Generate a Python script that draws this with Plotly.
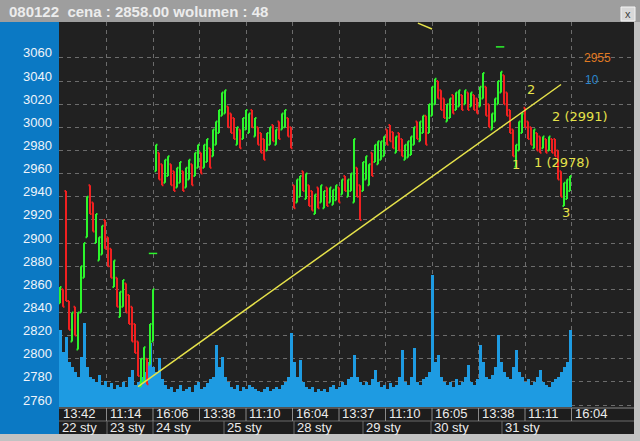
import plotly.graph_objects as go

# ---------------- data ----------------
bar_low = [2848, 2845, 2850, 2825, 2815, 2820, 2808, 2840, 2870, 2905,
           2925, 2910, 2900, 2885, 2890, 2895, 2880, 2870, 2862, 2845,
           2836, 2845, 2840, 2830, 2815, 2805, 2785, 2776, 2780, 2778,
           2795, 2815,
           2962, 2955, 2950, 2952, 2958, 2950, 2945, 2948, 2952, 2945,
           2948, 2955, 2950, 2958, 2965, 2960, 2965, 2970, 2965, 2975,
           2985, 2995, 3010, 3012, 3000, 2995, 2990, 2985, 2982, 2990,
           2998, 2995, 3000, 2992, 2985, 2978, 2972, 2980, 2985, 2988,
           2985, 2990, 2998, 3000, 2992, 2982,
           2930, 2935, 2940, 2945, 2938, 2932, 2928, 2925, 2930, 2935,
           2930, 2932, 2935, 2933, 2937, 2935, 2942, 2945, 2940, 2945,
           2935, 2940, 2920, 2945,
           2955, 2950, 2958, 2970, 2968, 2972, 2975, 2985, 2988, 2982,
           2978, 2980, 2975, 2972, 2974, 2976, 2985, 2990, 2988, 2995,
           2985, 2995,
           3010, 3020, 3025, 3015, 3008, 3005, 3008, 3012, 3015, 3018,
           3015, 3020, 3015, 3018, 3015, 3012, 3018, 3025, 3010, 3000,
           2998, 3005, 3020, 3030,
           3020, 3010, 2995, 2975, 2966, 2980, 2995, 3000, 2990, 2985,
           2982, 2980, 2978, 2982, 2978, 2980, 2978, 2975, 2955, 2940,
           2932, 2938, 2945]
bar_high = [2862, 2860, 2945, 2850, 2840, 2845, 2840, 2880, 2900, 2940,
            2950, 2935, 2925, 2905, 2915, 2920, 2905, 2895, 2885, 2870,
            2858, 2868, 2865, 2855, 2845, 2830, 2815, 2800, 2810, 2800,
            2830, 2860,
            2985, 2978, 2968, 2972, 2975, 2968, 2962, 2965, 2970, 2962,
            2965, 2972, 2968, 2978, 2985, 2978, 2985, 2990, 2982, 2998,
            3005, 3015, 3030, 3032, 3018, 3012, 3008, 3000, 2998, 3008,
            3015, 3012, 3015, 3008, 3000, 2995, 2990, 2995, 3000, 3002,
            2998, 3005, 3012, 3015, 3008, 3000,
            2950, 2955, 2958, 2962, 2960, 2950, 2945, 2942, 2948, 2950,
            2945, 2948, 2948, 2946, 2950, 2948, 2955, 2958, 2955, 2960,
            2990, 2965, 2950, 2970,
            2975, 2968, 2978, 2985, 2988, 2988, 2992, 2998, 3002, 2996,
            2992, 2995, 2990, 2985, 2988, 2992, 3000, 3005, 3005, 3010,
            3010, 3020,
            3035, 3042, 3040, 3032, 3025, 3020, 3025, 3028, 3030, 3032,
            3028, 3032, 3030, 3030, 3028, 3025, 3035, 3047, 3035, 3020,
            3012, 3025, 3040, 3048,
            3045, 3030, 3015, 2998, 2985, 3005, 3012, 3017, 3005, 3000,
            2998, 2995, 2992, 2992, 2990, 2992, 2990, 2990, 2980, 2962,
            2952, 2955, 2958]
# g = bar closed up (green), r = bar closed down (red)
bar_dir = ("grrrgrgggg" "rrgggrrrgr" "ggrrrrrggr" "gg"
           "grrgg" "rrggr" "ggrgg" "rggrg" "ggggr" "rrgrg" "ggrgr" "rrggr" "grggr" "rr"
           "ggrgr" "rgrgg" "rgggr" "grgg" "grrg"
           "ggrggggrrr" "grrggggrgg" "rg"
           "ggrrrggrgg" "rgrgrrggrr" "gggg"
           "rrrrgggrrr" "grrgrgrrrr" "ggg")
volume = [77, 55, 70, 45, 40, 35, 30, 50, 84, 40,
          30, 28, 25, 32, 22, 26, 20, 24, 18, 22,
          20, 25, 20, 30, 37, 22, 25, 30, 35, 45,
          64, 40,
          35, 49, 28, 22, 18, 20, 15, 18, 22, 16,
          18, 20, 15, 22, 25, 18, 20, 24, 28, 30,
          62, 40, 50, 30, 25, 20, 18, 22, 16, 20,
          18, 22, 20, 18, 16, 15, 18, 20, 16, 18,
          20, 18, 22, 25, 30, 74,
          45, 30, 47, 25, 20, 18, 20, 15, 18, 16,
          18, 15, 20, 22, 18, 20, 25, 22, 28, 30,
          52, 30, 25, 22,
          25, 22, 28, 37, 25, 20, 22, 18, 24, 20,
          22, 30, 57, 25, 22, 30, 59, 25, 22, 28,
          30, 35,
          132, 45, 52, 30, 25, 22, 25, 20, 28, 22,
          25, 30, 42, 25, 22, 28, 62, 45, 30, 28,
          32, 40, 72, 45,
          35, 30, 28, 40, 57, 35, 30, 25, 28, 22,
          25, 30, 37, 25, 22, 20, 25, 28, 30, 35,
          40, 45, 77]

price_ticks = [2760, 2780, 2800, 2820, 2840, 2860, 2880, 2900, 2920, 2940,
               2960, 2980, 3000, 3020, 3040, 3060]
grid_pos = [0, 15.5, 31, 46.5, 62, 77.5, 93, 108.5, 124, 139.5, 155, 170.5]
time_labels = ["13:42", "11:14", "16:06", "13:38", "11:10", "16:04",
               "13:37", "11:10", "16:05", "13:38", "11:11", "16:04"]
day_pos = [-0.33, 15.67, 31, 54.67, 78, 101, 123.67, 147.33]
day_labels = ["22 sty", "23 sty", "24 sty", "25 sty", "28 sty",
              "29 sty", "30 sty", "31 sty"]
trend_x = [26, 167]
trend_y = [2776, 3037]
top_seg_x = [119.3, 124]
top_seg_y = [3090, 3085]
mark_x = [31, 146.7]
mark_y = [2891, 3069.5]
wave_labels = [("2", 157, 3033), ("2 (2991)", 163.3, 3009), ("1", 152, 2967.5),
               ("1 (2978)", 157.3, 2970), ("3", 168.7, 2926)]
title_text = "080122&nbsp;&nbsp;cena : 2858.00 wolumen : 48"

# ---------------- figure ----------------
N = len(bar_low)
xs = list(range(N))
opens = [lo if d == "g" else hi for lo, hi, d in zip(bar_low, bar_high, bar_dir)]
closes = [hi if d == "g" else lo for lo, hi, d in zip(bar_low, bar_high, bar_dir)]

W, H = 640, 441
ML, MR, MT, MB = 59, 6, 22, 34
PW, PH = W - ML - MR, H - MT - MB

BLUE_PANEL = "#0b79c4"
VOL = "#1e9be2"
GREEN = "#2cf52c"
RED = "#f02020"
YEL = "#e6e24a"
GRID = "#6c6c6c"

fig = go.Figure()
fig.add_trace(go.Bar(x=xs, y=volume, width=1.0, marker=dict(color=VOL, line=dict(width=0)),
                     yaxis="y", hoverinfo="skip", showlegend=False))
fig.add_trace(go.Ohlc(x=xs, open=opens, high=bar_high, low=bar_low, close=closes,
                      increasing=dict(line=dict(color=GREEN, width=2)),
                      decreasing=dict(line=dict(color=RED, width=2)),
                      tickwidth=0.5, yaxis="y2", hoverinfo="skip", showlegend=False))
fig.add_trace(go.Scatter(x=mark_x, y=mark_y, mode="markers", yaxis="y2",
                         marker=dict(symbol="line-ew", size=6, line=dict(color=GREEN, width=1.5)),
                         hoverinfo="skip", showlegend=False))
fig.add_trace(go.Scatter(x=trend_x, y=trend_y, mode="lines", yaxis="y2",
                         line=dict(color=YEL, width=1.5), hoverinfo="skip", showlegend=False))
fig.add_trace(go.Scatter(x=top_seg_x, y=top_seg_y, mode="lines", yaxis="y2",
                         line=dict(color=YEL, width=1.5), hoverinfo="skip", showlegend=False))

annotations = []
for txt, x, y in wave_labels:
    annotations.append(dict(x=x, y=y, xref="x", yref="y2", text=txt, showarrow=False,
                            xanchor="left" if len(txt) > 1 else "center", yanchor="middle",
                            font=dict(family="DejaVu Sans, Verdana", size=13, color=YEL)))
annotations.append(dict(x=174, y=3060, xref="x", yref="y2", text="2955", showarrow=False,
                        xanchor="left", yanchor="middle",
                        font=dict(family="Liberation Sans, Arial", size=12, color="#e07a22")))
annotations.append(dict(x=174.3, y=3041, xref="x", yref="y2", text="10", showarrow=False,
                        xanchor="left", yanchor="middle",
                        font=dict(family="Liberation Sans, Arial", size=12, color="#2a86cc")))
row1_y = -7.0 / PH
row2_y = -21.0 / PH
for p, t in zip(grid_pos, time_labels):
    annotations.append(dict(x=p, y=row1_y, xref="x", yref="paper", text=t, showarrow=False,
                            xanchor="left", yanchor="middle", xshift=1,
                            font=dict(family="Liberation Sans, Arial", size=13, color="#ececec")))
for p, t in zip(day_pos, day_labels):
    annotations.append(dict(x=p, y=row2_y, xref="x", yref="paper", text=t, showarrow=False,
                            xanchor="left", yanchor="middle", xshift=1,
                            font=dict(family="Liberation Sans, Arial", size=13, color="#ececec")))
annotations.append(dict(x=-ML / PW, y=1 + 11 / PH, xref="paper", yref="paper",
                        text="<b>" + title_text + "</b>", showarrow=False,
                        xanchor="left", yanchor="middle", xshift=7,
                        font=dict(family="Liberation Sans, Arial", size=15, color="#ececec")))
annotations.append(dict(x=1 - 6 / PW, y=1 + 8 / PH, xref="paper", yref="paper",
                        text="x", showarrow=False, xanchor="center", yanchor="middle",
                        font=dict(family="Liberation Sans, Arial", size=11, color="#404040")))

shapes = []
# title bar
shapes.append(dict(type="rect", xref="paper", yref="paper", x0=-ML / PW, x1=1 + MR / PW,
                   y0=1, y1=1 + MT / PH, fillcolor="#9e9e9e", line=dict(width=0), layer="below"))
# left blue panel
shapes.append(dict(type="rect", xref="paper", yref="paper", x0=-ML / PW, x1=0,
                   y0=-27 / PH, y1=1, fillcolor=BLUE_PANEL, line=dict(width=0), layer="below"))
# bottom time panel
shapes.append(dict(type="rect", xref="paper", yref="paper", x0=0, x1=1,
                   y0=-27 / PH, y1=0, fillcolor="#1d1d1d", line=dict(width=0), layer="below"))
shapes.append(dict(type="line", xref="paper", yref="paper", x0=0, x1=1, y0=-1 / PH, y1=-1 / PH,
                   line=dict(color="#8a8a8a", width=1)))
shapes.append(dict(type="line", xref="paper", yref="paper", x0=0, x1=1, y0=-14 / PH, y1=-14 / PH,
                   line=dict(color="#6a6a6a", width=1)))
for p in grid_pos[1:]:
    shapes.append(dict(type="line", xref="x", yref="paper", x0=p, x1=p, y0=-1 / PH, y1=-14 / PH,
                       line=dict(color="#8a8a8a", width=1)))
for p in day_pos[1:]:
    shapes.append(dict(type="line", xref="x", yref="paper", x0=p, x1=p, y0=-14 / PH, y1=-27 / PH,
                       line=dict(color="#6a6a6a", width=1)))
# close button
shapes.append(dict(type="rect", xref="paper", yref="paper", x0=1 - 13 / PW, x1=1 + 1 / PW,
                   y0=1 + 1 / PH, y1=1 + 15 / PH, fillcolor="#d8d8d8",
                   line=dict(color="#f4f4f4", width=1)))

fig.update_layout(
    width=W, height=H,
    margin=dict(l=ML, r=MR, t=MT, b=MB, pad=0),
    paper_bgcolor="#c2c2c2",
    plot_bgcolor="#212121",
    showlegend=False,
    bargap=0,
    xaxis=dict(range=[-0.333, 191.333], tickvals=grid_pos, showticklabels=False,
               showgrid=True, gridcolor=GRID, griddash="4px,4px", gridwidth=1,
               zeroline=False, showline=False, ticks="", rangeslider=dict(visible=False),
               fixedrange=True),
    yaxis=dict(range=[0, 385], visible=False, showgrid=False, zeroline=False, fixedrange=True),
    yaxis2=dict(range=[2758.3, 3091], overlaying="y", side="left", tickvals=price_ticks,
                ticktext=[str(v) for v in price_ticks], showgrid=True, gridcolor=GRID,
                griddash="4px,4px", gridwidth=1, zeroline=False, showline=False, ticks="",
                ticklabelshift=-5, ticklabelstandoff=6,
                tickfont=dict(family="Liberation Sans, Arial", size=13, color="#eef4fa"),
                fixedrange=True),
    annotations=annotations,
    shapes=shapes,
)

fig.write_html("out.html", config={"displayModeBar": False},
               post_script="document.body.style.margin='0';document.body.style.overflow='hidden';")
